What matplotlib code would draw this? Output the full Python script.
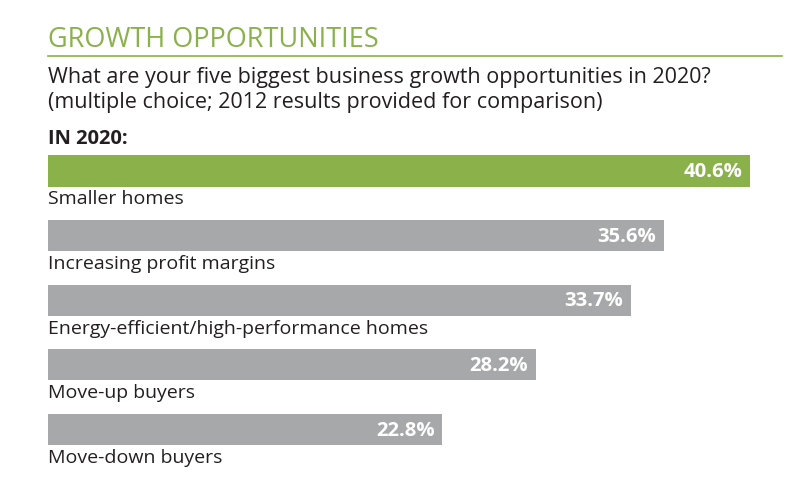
import matplotlib
matplotlib.use("Agg")
import matplotlib.pyplot as plt
from matplotlib.lines import Line2D

categories = ["Smaller homes", "Increasing profit margins",
              "Energy-efficient/high-performance homes",
              "Move-up buyers", "Move-down buyers"]
values = [40.6, 35.6, 33.7, 28.2, 22.8]
bar_colors = ["#8ab14a", "#a7a8aa", "#a7a8aa", "#a7a8aa", "#a7a8aa"]

title = "GROWTH OPPORTUNITIES"
subtitle = ("What are your five biggest business growth opportunities in 2020?\n"
            "(multiple choice; 2012 results provided for comparison)")
section = "IN 2020:"

plt.rcParams['font.family'] = ['Open Sans', 'DejaVu Sans']

W, H = 800, 478
fig = plt.figure(figsize=(W / 100, H / 100), dpi=100)

# axes: x=0 at 48 px, 40.6 at 750 px; bar centres 64.6 px apart
ax = fig.add_axes([48 / W, (H - 474.6) / H, (750 - 48) / W, 335.9 / H])
ax.set_xlim(0, values[0])
ax.set_ylim(4.7, -0.5)
ax.axis("off")

pos = list(range(len(categories)))
ax.barh(pos, values, height=0.48, color=bar_colors, edgecolor="none")
for p, v, c in zip(pos, values, categories):
    ax.text(v - 0.45, p + 0.02, f"{v}%", ha="right", va="center",
            color="white", fontsize=14.6, fontweight="bold")
    ax.text(0, p + 0.44, c, ha="left", va="center", color="#231f20",
            fontsize=14)

fig.text(48 / W, 1 - 40 / H, title, ha="left", va="center",
         color="#8ab14a", fontsize=19.5)
fig.add_artist(Line2D([48 / W, 782 / W], [1 - 56 / H, 1 - 56 / H],
                      color="#8ab14a", lw=1.2))
fig.text(48 / W, 1 - 90 / H, subtitle, ha="left", va="center",
         color="#231f20", fontsize=15.5, linespacing=1.2)
fig.text(48 / W, 1 - 139 / H, section, ha="left", va="center",
         color="#231f20", fontsize=14.5, fontweight="bold")

fig.savefig("out.png", dpi=100)
